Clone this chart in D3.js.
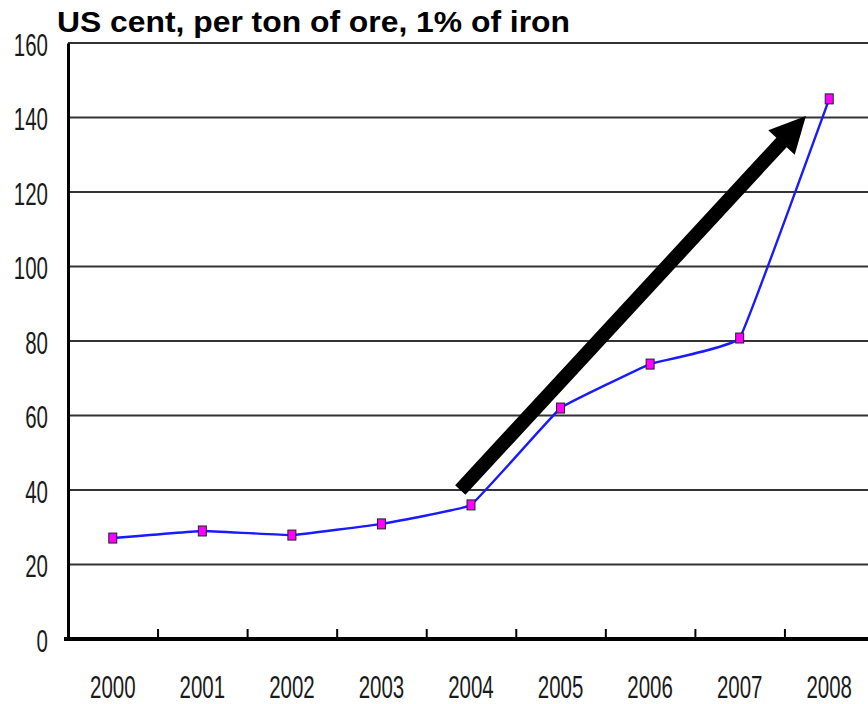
<!DOCTYPE html>
<html>
<head>
<meta charset="utf-8">
<script src="https://cdn.jsdelivr.net/npm/d3@7"></script>
<style>
  body { margin: 0; background: #fff; }
  svg { display: block; }
</style>
</head>
<body>
<div id="chart"></div>
<script>
// iron ore price, US cent per ton of ore per 1% Fe
const years = [2000, 2001, 2002, 2003, 2004, 2005, 2006, 2007, 2008];
const prices = [27.1, 29.0, 27.9, 30.9, 36.0, 62.0, 73.8, 80.8, 145.0];
const yTicks = [0, 20, 40, 60, 80, 100, 120, 140, 160];
// annotation arrow, in data units (year, price)
const arrowFrom = [2003.88, 40];
const arrowTo = [2007.74, 140.4];

const width = 868, height = 704;
const margin = { top: 43, right: -6, bottom: 65, left: 68 };

const svg = d3.select('#chart').append('svg')
    .attr('width', width)
    .attr('height', height);

const x = d3.scaleLinear()
    .domain([1999.5, 2008.5])
    .range([margin.left, width - margin.right]);

const y = d3.scaleLinear()
    .domain([0, 160])
    .range([height - margin.bottom, margin.top]);

// narrow, tall digits like the original
const labelFont = '"Liberation Sans", Arial, sans-serif';
const labelSize = 31, squeeze = 0.66;

// gridlines
svg.append('g')
    .selectAll('line')
    .data(yTicks.filter(d => d > 0))
    .enter()
    .append('line')
    .attr('x1', x(1999.5))
    .attr('x2', width)
    .attr('y1', d => y(d))
    .attr('y2', d => y(d))
    .attr('stroke', '#333')
    .attr('stroke-width', 2);

// y axis
const yAxis = svg.append('g')
    .attr('transform', `translate(${margin.left},0)`)
    .call(d3.axisLeft(y).tickValues(yTicks).tickSize(0).tickPadding(0));
yAxis.select('.domain').attr('stroke', '#000').attr('stroke-width', 3);
yAxis.selectAll('.tick text')
    .attr('font-family', labelFont)
    .attr('font-size', labelSize)
    .attr('fill', '#1a1a1a')
    .attr('x', 0)
    .attr('dy', '0.36em')
    .attr('transform', `translate(-20,1) scale(${squeeze},1)`);

// x axis: tick marks between years, labels under the years
const xAxis = svg.append('g')
    .attr('transform', `translate(0,${y(0)})`)
    .call(d3.axisTop(x).tickValues(d3.range(2000.5, 2008.5, 1)).tickSize(10).tickFormat(''));
xAxis.select('.domain').remove();
xAxis.selectAll('line').attr('stroke', '#000').attr('stroke-width', 2);
svg.append('line')
    .attr('x1', margin.left - 4)
    .attr('x2', width)
    .attr('y1', y(0))
    .attr('y2', y(0))
    .attr('stroke', '#000')
    .attr('stroke-width', 4);

svg.append('g')
    .selectAll('text')
    .data(years)
    .enter()
    .append('text')
    .attr('transform', d => `translate(${x(d)},${y(0) + 59}) scale(${squeeze},1)`)
    .attr('text-anchor', 'middle')
    .attr('font-family', labelFont)
    .attr('font-size', labelSize)
    .attr('fill', '#1a1a1a')
    .text(d => d);

// title
svg.append('text')
    .attr('x', 57)
    .attr('y', 32)
    .attr('font-family', '"Liberation Sans", Arial, sans-serif')
    .attr('font-weight', 'bold')
    .attr('font-size', 30)
    .attr('textLength', 513)
    .attr('lengthAdjust', 'spacingAndGlyphs')
    .attr('fill', '#000')
    .text('US cent, per ton of ore, 1% of iron');

// series line
const line = d3.line()
    .x((d, i) => x(years[i]))
    .y(d => y(d))
    .curve(d3.curveCardinal.tension(0.8));

svg.append('path')
    .datum(prices)
    .attr('d', line)
    .attr('fill', 'none')
    .attr('stroke', '#1a1aff')
    .attr('stroke-width', 2.4);

svg.append('g')
    .selectAll('rect')
    .data(prices)
    .enter()
    .append('rect')
    .attr('x', (d, i) => x(years[i]) - 4)
    .attr('y', d => y(d) - 5)
    .attr('width', 8)
    .attr('height', 10)
    .attr('fill', '#ff00ff')
    .attr('stroke', '#222')
    .attr('stroke-width', 1);

// annotation arrow
const x0 = x(arrowFrom[0]), y0 = y(arrowFrom[1]);
const x1 = x(arrowTo[0]), y1 = y(arrowTo[1]);
const len = Math.hypot(x1 - x0, y1 - y0);
const ux = (x1 - x0) / len, uy = (y1 - y0) / len;
const nx = -uy, ny = ux;
const shaft = 7, head = 18, headLen = 36;
const bx = x1 - ux * headLen, by = y1 - uy * headLen;
const pts = [
    [x0 + nx * shaft, y0 + ny * shaft],
    [bx + nx * shaft, by + ny * shaft],
    [bx + nx * head, by + ny * head],
    [x1, y1],
    [bx - nx * head, by - ny * head],
    [bx - nx * shaft, by - ny * shaft],
    [x0 - nx * shaft, y0 - ny * shaft]
];
svg.append('path')
    .attr('d', 'M' + pts.map(p => p.join(',')).join('L') + 'Z')
    .attr('fill', '#000');
</script>
</body>
</html>
